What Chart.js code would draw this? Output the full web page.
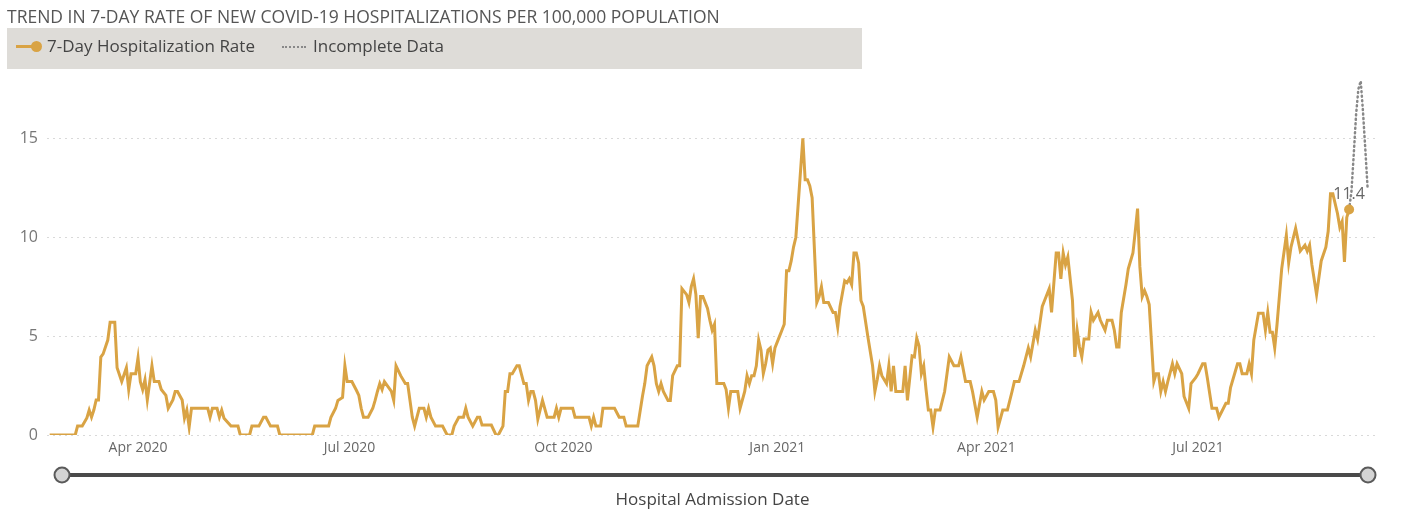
<!DOCTYPE html>
<html>
<head>
<meta charset="utf-8">
<script src="https://cdn.jsdelivr.net/npm/chart.js@4.4.1/dist/chart.umd.min.js"></script>
<style>
  html, body { margin:0; padding:0; background:#fff; }
  body { width:1404px; height:522px; position:relative; overflow:hidden; font-family:"Open Sans", "Noto Sans", sans-serif; }
  #chart { position:absolute; left:0; top:0; }
  #title { position:absolute; left:7px; top:4px; font-size:17.5px; line-height:24px; color:#555; white-space:nowrap; }
  #legend { position:absolute; left:7px; top:28px; width:855px; height:41px; background:#dedcd8; }
  .lg { position:absolute; top:6px; font-size:17px; line-height:23px; color:#444; white-space:nowrap; }
  #sym1 { position:absolute; left:9px; top:17px; width:20px; height:3px; background:#D9A344; }
  #dot1 { position:absolute; left:24px; top:13px; width:11px; height:11px; border-radius:50%; background:#D9A344; }
  #sym2 { position:absolute; left:275px; top:18px; width:24px; height:0; border-top:2px dotted #888; }
</style>
</head>
<body>
<canvas id="chart" width="1404" height="522"></canvas>
<div id="title">TREND IN 7-DAY RATE OF NEW COVID-19 HOSPITALIZATIONS PER 100,000 POPULATION</div>
<div id="legend">
  <div id="sym1"></div><div id="dot1"></div>
  <div class="lg" style="left:40px">7-Day Hospitalization Rate</div>
  <div id="sym2"></div>
  <div class="lg" style="left:306px">Incomplete Data</div>
</div>
<script>
// Day numbers are days since 2020-01-01 (day 91 = 1 Apr 2020, day 366 = 1 Jan 2021)
const days = [53,64,65,67,69,70,71,72,73,74,75,76,78,79,81,82,84,86,87,88,90,91,92,93,94,95,97,98,100,101,103,104,106,107,108,110,111,112,113,114,121,122,123,125,126,127,128,131,134,135,139,140,143,145,146,148,151,152,166,167,173,174,176,177,179,180,181,183,185,186,187,188,190,192,193,194,195,196,197,200,201,202,204,206,207,208,209,210,211,212,214,215,216,217,219,222,224,226,227,229,231,232,233,235,237,238,239,243,245,246,248,249,250,251,252,254,255,257,258,259,260,261,262,263,265,267,270,271,272,273,278,279,285,286,287,288,290,291,296,298,300,301,306,308,309,310,312,313,314,315,316,317,319,320,321,323,324,325,327,328,329,330,331,332,333,334,336,337,338,339,340,343,344,345,346,349,350,352,353,354,355,356,357,358,359,360,361,362,363,364,365,367,368,369,370,371,372,373,374,377,378,379,380,381,383,384,385,386,388,390,391,392,393,395,396,397,398,399,400,401,402,403,405,407,408,409,410,411,413,414,415,416,417,420,421,422,424,425,426,427,428,429,430,431,432,433,434,436,438,440,442,444,445,447,449,450,452,454,455,457,459,460,461,463,465,467,468,470,472,474,475,477,478,480,481,483,484,486,487,488,489,490,491,493,494,495,496,497,498,500,501,502,504,505,507,508,510,511,512,513,514,516,517,519,520,521,522,523,524,525,526,528,529,530,531,532,533,534,536,537,538,540,541,543,544,546,547,549,550,551,553,555,556,559,560,561,564,565,566,568,569,570,571,573,575,576,577,578,579,580,581,583,585,586,587,589,591,593,594,595,596,598,600,602,603,604,605,607,608,609,610,611,612];
const rates = [0,0,0.45,0.45,0.86,1.26,0.9,1.26,1.77,1.77,3.94,4.1,4.8,5.7,5.7,3.4,2.7,3.4,2.3,3.1,3.1,3.9,2.7,2.3,2.8,1.77,3.5,2.7,2.7,2.3,2.0,1.35,1.77,2.2,2.2,1.77,0.85,1.26,0.4,1.35,1.35,0.9,1.35,1.35,0.9,1.26,0.85,0.45,0.45,0,0,0.45,0.45,0.9,0.9,0.45,0.45,0,0,0.45,0.45,0.9,1.35,1.75,1.9,3.5,2.7,2.7,2.25,2.0,1.35,0.9,0.9,1.35,1.75,2.2,2.6,2.3,2.7,2.2,1.75,3.5,3.0,2.6,2.6,1.75,0.9,0.45,0.9,1.35,1.35,0.9,1.35,0.9,0.45,0.45,0,0,0.45,0.9,0.9,1.35,0.9,0.45,0.9,0.9,0.5,0.5,0,0,0.45,2.2,2.2,3.1,3.1,3.5,3.5,2.6,2.6,1.75,2.2,2.2,1.75,0.8,1.75,0.9,0.9,1.35,0.9,1.35,1.35,0.9,0.9,0.45,0.9,0.45,0.45,1.35,1.35,0.9,0.9,0.45,0.45,1.95,2.6,3.5,3.95,3.5,2.6,2.2,2.6,2.2,1.75,1.75,3.0,3.5,3.5,7.4,7.1,6.7,7.5,7.9,7.1,4.9,7.0,7.0,6.4,5.8,5.3,5.6,2.6,2.6,2.3,1.35,2.2,2.2,1.35,2.2,3.0,2.6,3.0,3.0,3.5,4.8,4.3,3.1,3.6,4.3,4.4,3.6,4.4,5.0,5.3,5.6,8.3,8.3,8.8,9.5,10.0,15.0,12.9,12.9,12.6,12.0,6.7,7.0,7.5,6.7,6.7,6.2,6.2,5.45,6.5,7.8,7.7,7.9,7.6,9.2,9.2,8.7,6.8,6.5,4.95,3.5,2.2,2.8,3.5,3.0,2.6,3.5,2.2,3.5,2.2,2.2,3.5,1.75,4.0,3.95,4.9,4.5,3.1,3.5,2.3,1.26,1.26,0.4,1.26,1.26,2.2,3.95,3.5,3.5,3.95,2.7,2.7,2.2,0.9,2.2,1.77,2.2,2.2,1.77,0.4,1.26,1.26,2.2,2.7,2.7,3.5,4.4,3.95,5.3,4.85,6.5,6.8,7.4,6.2,9.2,9.2,7.9,9.2,8.6,9.0,6.8,3.95,5.3,4.45,3.95,4.85,4.85,6.2,5.8,6.2,5.8,5.3,5.8,5.8,5.3,4.45,4.45,6.2,7.6,8.4,9.2,10.3,11.45,8.5,7.0,7.3,7.0,6.6,2.7,3.1,3.1,2.2,2.7,2.2,2.7,3.6,3.1,3.6,3.1,1.95,1.35,2.6,2.9,3.1,3.6,3.6,2.9,1.35,1.35,0.9,1.6,1.6,2.4,3.6,3.6,3.1,3.1,3.6,3.1,4.8,6.15,6.15,5.3,6.2,5.2,5.2,4.4,5.6,8.4,10.1,8.7,9.5,10.45,9.3,9.6,9.3,9.6,8.6,7.1,8.8,9.5,10.3,12.2,12.2,11.2,10.5,10.8,8.75,11.0,11.4];

// Incomplete data (last days)
const incDays  = [612,613,614,615,616,617,618,619,620];
const incRates = [11.4,12.3,14.2,16.2,17.5,17.9,16.3,14.4,12.4];

// Axis ticks
const tickDays   = [91,182,274,366,456,547];
const tickLabels = ['Apr 2020','Jul 2020','Oct 2020','Jan 2021','Apr 2021','Jul 2021'];
const yTicks     = [0,5,10,15];

const GOLD = '#D9A344';

const lastLabel = {
  id:'lastLabel',
  afterDatasetsDraw(chart){
    const meta = chart.getDatasetMeta(0);
    const pt = meta.data[meta.data.length-1];
    const ctx = chart.ctx;
    ctx.save();
    ctx.font = '16px "Open Sans", sans-serif';
    ctx.fillStyle = '#666';
    ctx.textAlign = 'center';
    ctx.textBaseline = 'middle';
    ctx.fillText(rates[rates.length-1].toFixed(1), pt.x, pt.y - 15);
    ctx.restore();
  }
};

const slider = {
  id:'slider',
  afterDraw(chart){
    const ca = chart.chartArea, ctx = chart.ctx;
    const x1 = ca.left + 15, x2 = ca.right - 10, y = ca.bottom + 40;
    ctx.save();
    ctx.strokeStyle = '#4a4a4a'; ctx.lineWidth = 4;
    ctx.beginPath(); ctx.moveTo(x1,y); ctx.lineTo(x2,y); ctx.stroke();
    [x1,x2].forEach(x=>{
      ctx.beginPath(); ctx.arc(x,y,7.5,0,Math.PI*2);
      ctx.fillStyle='#d4d4d4'; ctx.fill();
      ctx.lineWidth=2; ctx.strokeStyle='#5a5a5a'; ctx.stroke();
    });
    ctx.restore();
  }
};

new Chart(document.getElementById('chart'), {
  type:'line',
  data:{
    datasets:[
      {
        label:'7-Day Hospitalization Rate',
        data: days.map((d,i)=>({x:d,y:rates[i]})),
        borderColor: GOLD, backgroundColor: GOLD,
        borderWidth: 3, tension: 0,
        pointRadius: c => c.dataIndex === days.length-1 ? 5 : 0,
        pointBackgroundColor: GOLD, pointBorderWidth: 0,
        order: 1
      },
      {
        label:'Incomplete Data',
        data: incDays.map((d,i)=>({x:d,y:incRates[i]})),
        borderColor:'#888', borderWidth:2.5, borderDash:[1,3.5], borderCapStyle:'round',
        pointRadius:0, tension:0, order: 2
      }
    ]
  },
  options:{
    responsive:false, animation:false, devicePixelRatio:1,
    layout:{ padding:{ left:0, right:26, top:79, bottom:0 } },
    plugins:{ legend:{display:false}, tooltip:{enabled:false}, title:{display:false} },
    scales:{
      x:{
        type:'linear', min:51.85, max:624.43,
        grid:{display:false, drawTicks:false}, border:{display:false},
        afterBuildTicks: s => { s.ticks = tickDays.map(v=>({value:v})); },
        afterFit: s => { s.height = 87; },
        ticks:{ autoSkip:false, maxRotation:0, padding:5, color:'#666',
          font:{family:'"Open Sans", sans-serif', size:14},
          callback: v => { const i = tickDays.indexOf(v); return i>=0 ? tickLabels[i] : ''; } },
        title:{ display:true, text:'Hospital Admission Date', color:'#444',
          font:{family:'"Open Sans", sans-serif', size:17}, padding:{top:0,bottom:12} }
      },
      y:{
        min:0, max:18,
        afterBuildTicks: s => { s.ticks = yTicks.map(v=>({value:v})); },
        afterFit: s => { s.width = 47; },
        grid:{ color:'#d9d9d9', lineWidth:1, drawTicks:false },
        border:{ display:false, dash:[2,4] },
        ticks:{ padding:9, color:'#777', font:{family:'"Open Sans", sans-serif', size:16} }
      }
    }
  },
  plugins:[lastLabel, slider]
});
</script>
</body>
</html>
